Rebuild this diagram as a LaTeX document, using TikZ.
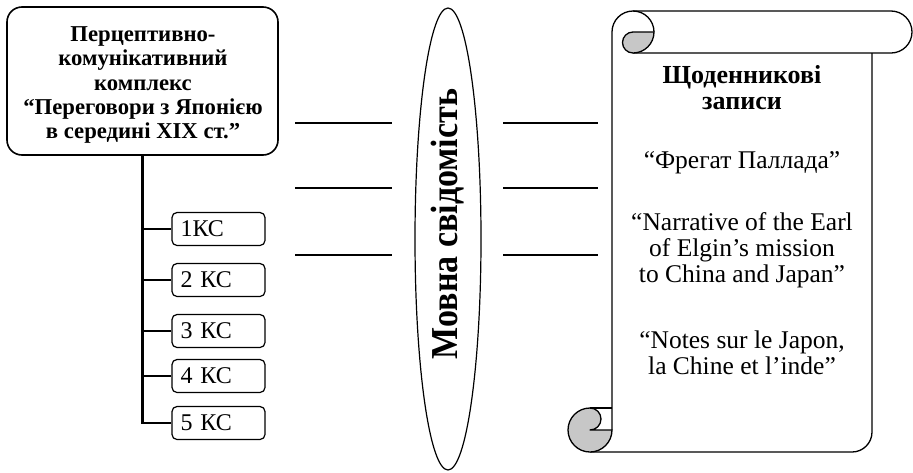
\documentclass[tikz,border=0pt]{standalone}
\usepackage{fontspec}
\setmainfont{Liberation Serif}
\usetikzlibrary{shapes.geometric}
\definecolor{rollgray}{gray}{0.78}
\begin{document}
\begin{tikzpicture}[x=1pt,y=1pt,
  every node/.style={inner sep=0pt},
  mainbox/.style={draw, line width=1.6pt, rounded corners=15pt,
    minimum width=271pt, minimum height=148pt},
  maintext/.style={align=center,
    font=\bfseries\fontsize{22.7}{24.2}\selectfont},
  ksbox/.style={draw, line width=1.2pt, rounded corners=5pt,
    minimum height=33pt, text width=76pt, inner xsep=8.5pt, align=left,
    font=\fontsize{24}{25}\selectfont},
  stem/.style={line width=2.4pt},
  link/.style={line width=1.1pt},
  mindshape/.style={draw, ellipse, line width=1.2pt,
    minimum width=66pt, minimum height=462pt},
  scrollline/.style={line width=1.3pt, line join=round},
  heading/.style={align=center, font=\bfseries\fontsize{26}{25.7}\selectfont},
  entry/.style={align=center, font=\fontsize{25.5}{26}\selectfont}
]
\useasboundingbox (0,0) rectangle (913,-472);

% complex box and its five sub-boxes
\node[mainbox] (complex) at (142.5,-81) {};
\node[maintext] (complextext) at (143,-85)
  {Перцептивно-\\комунікативний\\комплекс\\“Переговори з Японією\\в середині XIX ст.”};
\node[ksbox] (k1) at (218.5,-229) {1КС};
\node[ksbox] (k2) at (218.5,-280) {2 КС};
\node[ksbox] (k3) at (218.5,-331) {3 КС};
\node[ksbox] (k4) at (218.5,-376) {4 КС};
\node[ksbox] (k5) at (218.5,-423) {5 КС};

\draw[stem] (complex.south) -- (complex.south |- k5.west) -- (k5.west);
\foreach \k in {k1,k2,k3,k4}
  \draw[stem] (complex.south |- \k.west) -- (\k.west);

% language consciousness
\node[mindshape] (mind) at (448,-239) {};
\node[rotate=90, font=\bfseries\fontsize{34}{34}\selectfont] (mindtext) at (448,-224)
  {\scalebox{1}[1.12]{Мовна свідомість}};

% short strokes on both sides of the ellipse
\foreach \n/\y in {a/123, b/188, c/255} {
  \coordinate (l\n1) at (295,-\y);
  \coordinate (l\n2) at (392,-\y);
  \coordinate (r\n1) at (503,-\y);
  \coordinate (r\n2) at (598,-\y);
  \draw[link] (l\n1) -- (l\n2);
  \draw[link] (r\n1) -- (r\n2);
}

% scroll
\draw[scrollline] (633,-11) -- (891,-11)
  arc[start angle=90, end angle=-90, radius=21] -- (633,-53);
\draw[scrollline] (612,-430) -- (612,-32)
  arc[start angle=180, end angle=0, radius=21];
\filldraw[scrollline, fill=rollgray] (633,-32) -- (654,-32)
  arc[start angle=0, end angle=-90, radius=21]
  arc[start angle=-90, end angle=-270, radius=10.5] -- cycle;
\draw[scrollline] (872,-53) -- (872,-432)
  arc[start angle=0, end angle=-90, radius=20] -- (590,-452);
\filldraw[scrollline, fill=rollgray] (590,-408)
  arc[start angle=90, end angle=-90, radius=11] -- (612,-430)
  arc[start angle=0, end angle=-270, radius=22] -- cycle;
\draw[scrollline] (590,-408) -- (612,-408);

\node[heading] (diary) at (742,-87.5) {Щоденникові\\записи};
\node[entry] (pallada) at (742,-162.3) {“Фрегат Паллада”};
\node[entry] (elgin) at (742,-250)
  {“Narrative of the Earl\\of Elgin’s mission\\to China and Japan”};
\node[entry] (notes) at (742,-353)
  {“Notes sur le Japon,\\la Chine et l’inde”};
\end{tikzpicture}
\end{document}
